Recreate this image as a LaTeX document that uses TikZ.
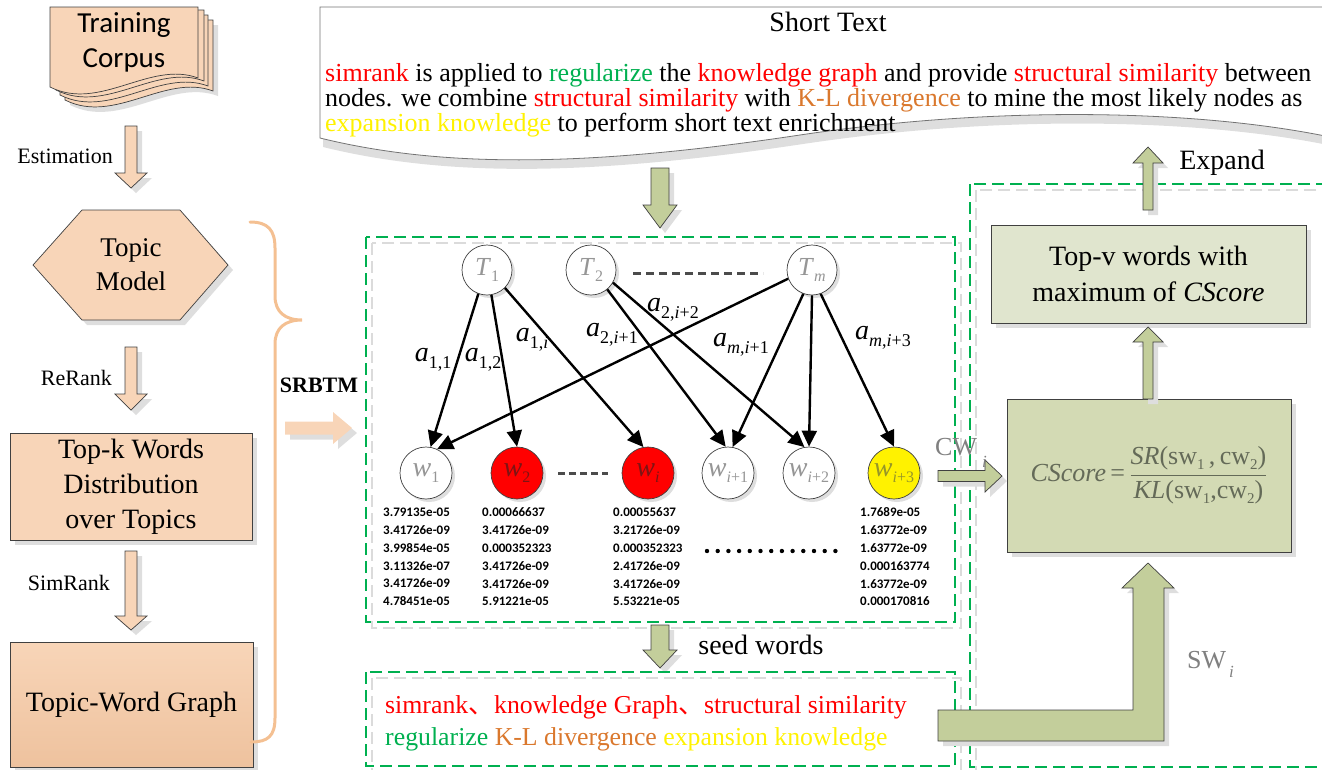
\documentclass[tikz,border=0pt]{standalone}
\usepackage{fontspec}
\setmainfont{Liberation Serif}
\newfontfamily\calib{Carlito}
\newfontfamily\cjk{Noto Sans CJK SC}
\usetikzlibrary{arrows.meta,shadows}

\definecolor{peach}{RGB}{248,213,184}
\definecolor{peachdark}{RGB}{238,194,158}
\definecolor{braceor}{RGB}{244,192,146}
\definecolor{olive}{RGB}{195,206,155}
\definecolor{cboxfill}{RGB}{211,218,180}
\definecolor{tboxfill}{RGB}{224,229,206}
\definecolor{dgreen}{RGB}{0,176,80}
\definecolor{klorange}{RGB}{218,120,45}
\definecolor{nodegray}{RGB}{150,150,150}
\definecolor{edgegray}{RGB}{64,64,64}
\definecolor{fgray}{RGB}{100,106,88}
\definecolor{shad}{RGB}{222,222,222}
\definecolor{darkred}{RGB}{125,20,20}
\definecolor{darkyellow}{RGB}{150,150,40}

% lowered small-size index
\newcommand\sbs[3]{\raisebox{-#1pt}{\fontsize{#2}{#2}\selectfont #3}}
% vertical block arrow: style, x centre, tail y, head-base y, tip y, half shaft, half head
\newcommand\vblock[7]{\path[#1] (#2-#6,#3) -- (#2+#6,#3) -- (#2+#6,#4) -- (#2+#7,#4) -- (#2,#5) -- (#2-#7,#4) -- (#2-#6,#4) -- cycle;}
% horizontal block arrow: style, y centre, tail x, head-base x, tip x, half shaft, half head
\newcommand\hblock[7]{\path[#1] (#3,#2-#6) -- (#4,#2-#6) -- (#4,#2-#7) -- (#5,#2) -- (#4,#2+#7) -- (#4,#2+#6) -- (#3,#2+#6) -- cycle;}
% one sheet of the corpus stack
\newcommand\sheet[3]{\path[#1,shift={(#2,#3)}] (50,7) -- (198,7) -- (198,78) .. controls (150,60) and (100,112) .. (50,87) -- cycle;}

\tikzset{
  softshadow/.style={drop shadow={shadow xshift=5pt,shadow yshift=-5pt,fill=shad,opacity=1}},
  smallshadow/.style={drop shadow={shadow xshift=3pt,shadow yshift=-3pt,fill=shad,opacity=1}},
  peachshape/.style={draw=edgegray,line width=0.7pt,fill=peach},
  oliveshape/.style={draw=edgegray,line width=0.7pt,fill=olive,softshadow},
  peachbox/.style={rectangle,draw=edgegray,line width=0.7pt,fill=peach,softshadow,inner sep=0pt,align=center,font=\fontsize{28}{35}\selectfont},
  olivebox/.style={rectangle,draw=edgegray,line width=0.7pt,softshadow,inner sep=0pt,align=center},
  topicnode/.style={circle,draw=edgegray,line width=0.7pt,fill=white,minimum size=50pt,inner sep=0pt,smallshadow,text=nodegray,font=\fontsize{26}{26}\selectfont},
  wordnode/.style={circle,draw=edgegray,line width=0.7pt,fill=white,minimum size=52pt,inner sep=0pt,smallshadow,text=nodegray,font=\fontsize{28}{28}\selectfont},
  wlink/.style={line width=2.4pt,-{Triangle[length=16pt,width=15pt]}},
  elabel/.style={inner sep=0pt,font=\fontsize{28}{28}\selectfont},
  gbox/.style={draw=dgreen,line width=1.8pt,dash pattern=on 12pt off 6pt},
  gboxshadow/.style={draw=black!14,line width=1.8pt,dash pattern=on 12pt off 6pt},
  darkdash/.style={draw=black!70,line width=3pt,dash pattern=on 8pt off 5pt},
  numcol/.style={anchor=west,align=left,inner sep=0pt,font=\calib\bfseries\fontsize{13}{17.8}\selectfont},
  steplabel/.style={anchor=east,inner sep=0pt,font=\fontsize{22}{22}\selectfont},
  bodyline/.style={anchor=base west,inner sep=0pt,font=\fontsize{26}{26}\selectfont},
  seedline/.style={anchor=base west,inner sep=0pt,font=\fontsize{25.8}{26}\selectfont},
}

\begin{document}
\begin{tikzpicture}[x=1pt,y=-1pt]
\useasboundingbox (0,0) rectangle (1322,769);
\clip (0,0) rectangle (1322,769);

% ---------------- left column: pipeline ----------------
\sheet{peachshape,softshadow}{15}{13}
\sheet{peachshape}{10}{8}
\sheet{peachshape}{6}{3}
\sheet{peachshape}{0}{0}
\node[inner sep=0pt,align=center,font=\calib\fontsize{29}{35}\selectfont] (corpus) at (124,42) {Training\\Corpus};

\vblock{peachshape,softshadow}{131}{126}{173}{188}{6}{16}
\node[steplabel] (est) at (113,156) {Estimation};

\path[peachshape,softshadow] (33,265) -- (82,210) -- (180,210) -- (228,265) -- (180,320) -- (82,320) -- cycle;
\node[inner sep=0pt,align=center,font=\fontsize{27}{34}\selectfont] (topic) at (131,265) {Topic\\Model};

\vblock{peachshape,softshadow}{131}{347}{394}{410}{6}{16}
\node[steplabel] (rerank) at (112,378) {ReRank};

\node[peachbox,minimum width=242pt,minimum height=107pt] (topk) at (131,486.5) {Top-k Words\\Distribution\\over Topics};

\vblock{peachshape,softshadow}{131}{551}{616}{630}{6}{16}
\node[steplabel] (simrank) at (110,583) {SimRank};

\node[peachbox,minimum width=243pt,minimum height=125pt,top color=peach,middle color=peach,bottom color=peachdark] (twg) at (131.5,704.5) {Topic-Word Graph};

% brace gathering the pipeline
\draw[braceor,line width=3pt,line cap=round] (250,222) .. controls (268,222) and (275,230) .. (275,248) -- (275,296)
  .. controls (275,312) and (285,320) .. (302,320) .. controls (285,320) and (275,328) .. (275,344) -- (275,718)
  .. controls (275,736) and (268,742) .. (251,742);
\node[inner sep=0pt,font=\bfseries\fontsize{22}{22}\selectfont] (srbtm) at (319,385) {SRBTM};
\hblock{fill=peach,draw=none,softshadow}{428}{285}{333}{352}{6.5}{16}

% ---------------- short text ----------------
\path[draw=black!55,line width=0.8pt,fill=white,drop shadow={shadow xshift=3pt,shadow yshift=-9pt,fill=shad,opacity=1}]
  (320,7) -- (1330,7) -- (1330,137) .. controls (1200,110) and (1000,105) .. (800,135)
  .. controls (600,165) and (450,170) .. (320,138) -- cycle;
\node[inner sep=0pt,font=\fontsize{28}{28}\selectfont] (stitle) at (828,22) {Short Text};
\node[bodyline] (st1) at (325,81) {\textcolor{red}{simrank} is applied to \textcolor{dgreen}{regularize} the \textcolor{red}{knowledge graph} and provide \textcolor{red}{structural similarity} between};
\node[bodyline] (st2) at (325,106) {nodes. we combine \textcolor{red}{structural similarity} with \textcolor{klorange}{K-L divergence} to mine the most likely nodes as};
\node[bodyline] (st3) at (325,131) {\textcolor{yellow}{expansion knowledge} to perform short text enrichment};

\vblock{oliveshape}{660}{168}{205}{228}{9}{17}

% ---------------- topic-word graph ----------------
\draw[gboxshadow] (372,243) rectangle (961,628);
\draw[gbox] (366,237) rectangle (955,622);

\node[topicnode] (T1) at (487,270) {\textit{T}\sbs{6}{16}{1}};
\node[topicnode] (T2) at (591,270) {\textit{T}\sbs{6}{16}{2}};
\node[topicnode] (Tm) at (812,270) {\textit{T}\sbs{6}{16}{\textit{m}}};
\coordinate (tdA) at (633,273);
\coordinate (tdB) at (763,273);
\draw[darkdash] (tdA) -- (tdB);

\node[wordnode] (w1) at (426,473) {\textit{w}\sbs{6}{16}{1}};
\node[wordnode,fill=red,text=darkred] (w2) at (517,473) {\textit{w}\sbs{6}{16}{2}};
\node[wordnode,fill=red,text=darkred] (wi) at (648,473) {\textit{w}\sbs{6}{16}{\textit{i}}};
\node[wordnode] (wa) at (728,473) {\textit{w}\sbs{6}{16}{\textit{i}+1}};
\node[wordnode] (wb) at (809,473) {\textit{w}\sbs{6}{16}{\textit{i}+2}};
\node[wordnode,fill=yellow,text=darkyellow] (wc) at (894,473) {\textit{w}\sbs{6}{16}{\textit{i}+3}};
\coordinate (wdA) at (558,473);
\coordinate (wdB) at (608,473);
\draw[darkdash,dash pattern=on 7pt off 4pt] (wdA) -- (wdB);

\draw[wlink] (T1.250) -- (w1.80);
\draw[wlink] (T1.280) -- (w2.north);
\draw[wlink] (T1.-45) -- (wi.100);
\draw[wlink] (T2.-50) -- (wa.95);
\draw[wlink] (T2.-30) -- (wb.100);
\draw[wlink] (Tm.200) -- (w1.65);
\draw[wlink] (Tm.250) -- (wa.80);
\draw[wlink] (Tm.south) -- (wb.north);
\draw[wlink] (Tm.-70) -- (wc.north);

\node[elabel] (l11) at (433,360) {\textit{a}\sbs{7}{18}{1,1}};
\node[elabel] (l12) at (483,360) {\textit{a}\sbs{7}{18}{1,2}};
\node[elabel] (l1i) at (532,340) {\textit{a}\sbs{7}{18}{1,\textit{i}}};
\node[elabel] (l2a) at (612,335) {\textit{a}\sbs{7}{18}{2,\textit{i}+1}};
\node[elabel] (l2b) at (673,310) {\textit{a}\sbs{7}{18}{2,\textit{i}+2}};
\node[elabel] (lma) at (741,345) {\textit{a}\sbs{7}{18}{\textit{m},\textit{i}+1}};
\node[elabel] (lmc) at (883,338) {\textit{a}\sbs{7}{18}{\textit{m},\textit{i}+3}};

\node[numcol] (c1) at (383,557) {3.79135e-05\\3.41726e-09\\3.99854e-05\\3.11326e-07\\3.41726e-09\\4.78451e-05};
\node[numcol] (c2) at (482,557) {0.00066637\\3.41726e-09\\0.000352323\\3.41726e-09\\3.41726e-09\\5.91221e-05};
\node[numcol] (c3) at (613,557) {0.00055637\\3.21726e-09\\0.000352323\\2.41726e-09\\3.41726e-09\\5.53221e-05};
\node[numcol] (c4) at (860,557) {1.7689e-05\\1.63772e-09\\1.63772e-09\\0.000163774\\1.63772e-09\\0.000170816};
\coordinate (ndA) at (707,551);
\coordinate (ndB) at (846,551);
\draw[line width=4.4pt,line cap=round,dash pattern=on 0pt off 10.7pt] (ndA) -- (ndB);

% ---------------- seed words ----------------
\vblock{oliveshape}{660}{625}{650}{668}{9}{17}
\node[inner sep=0pt,font=\fontsize{28}{28}\selectfont] (seedlab) at (761,645) {seed words};
\draw[gboxshadow] (372,678) rectangle (961,772);
\draw[gbox] (366,672) rectangle (955,766);
\node[seedline,text=red] (sd1) at (385,713) {simrank{\cjk 、}knowledge Graph{\cjk 、}structural similarity};
\node[seedline] (sd2) at (385,745) {\textcolor{dgreen}{regularize} \textcolor{klorange}{K-L divergence} \textcolor{yellow}{expansion knowledge}};

% ---------------- scoring and expansion ----------------
\draw[gboxshadow] (976,190) rectangle (1346,773);
\draw[gbox] (970,184) rectangle (1340,767);

\node[olivebox,fill=tboxfill,minimum width=315pt,minimum height=98pt,font=\fontsize{28}{36}\selectfont] (topv) at (1148.5,274) {Top-v words with\\maximum of \textit{CScore}};
\node[olivebox,fill=cboxfill,minimum width=284pt,minimum height=153pt,text=fgray,font=\fontsize{26}{26}\selectfont] (cscore) at (1149,475.5)
  {\textit{CScore}\,=\,$\displaystyle\frac{\hbox{\textit{SR}(sw\sbs{5}{15}{1}\,,\,cw\sbs{5}{15}{2})}}{\hbox{\textit{KL}(sw\sbs{5}{15}{1},cw\sbs{5}{15}{2})}}$};

\vblock{oliveshape}{1148}{399}{342}{327}{5}{15}
\vblock{oliveshape}{1148}{210}{163}{147}{5}{15}
\node[inner sep=0pt,font=\fontsize{28}{28}\selectfont] (expand) at (1222,163) {Expand};

\hblock{oliveshape}{476}{938}{985}{1002}{5.5}{16}
\node[anchor=base west,inner sep=0pt,text=black!50,font=\fontsize{26}{26}\selectfont] (cwlab) at (935,455) {CW\hspace{5pt}\sbs{12}{17}{\textit{i}}};

\path[oliveshape] (938,710) -- (1133,710) -- (1133,588) -- (1122,588) -- (1148,563) -- (1174,588) -- (1164,588) -- (1164,741) -- (938,741) -- cycle;
\node[anchor=base west,inner sep=0pt,text=black!50,font=\fontsize{26}{26}\selectfont] (swlab) at (1187,668) {SW\hspace{3pt}\sbs{9}{17}{\textit{i}}};

\end{tikzpicture}
\end{document}
